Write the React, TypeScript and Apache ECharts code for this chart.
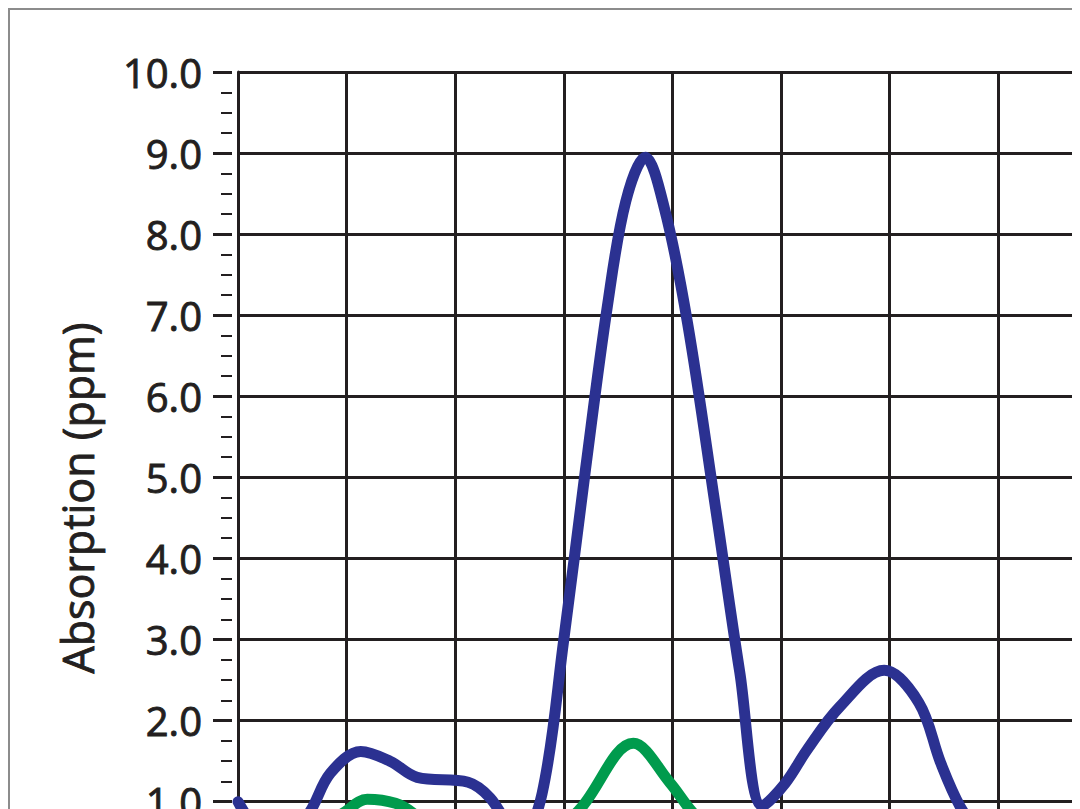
import React, { useEffect, useRef } from "react";
import * as echarts from "echarts";

const yTicks = [0, 1, 2, 3, 4, 5, 6, 7, 8, 9, 10];
const yAxisTitle = "Absorption (ppm)";

const blueX = [0, 0.3, 0.62, 0.85, 1.13, 1.4, 1.65, 2.12, 2.32, 2.6, 2.8, 3.0, 3.2, 3.4, 3.57, 3.75, 3.93, 4.14, 4.4, 4.62, 4.83, 5.04, 5.24, 5.54, 5.95, 6.27, 6.47, 6.65, 6.9];
const blueY = [1.0, 0.55, 0.8, 1.35, 1.62, 1.5, 1.3, 1.24, 1.05, 0.55, 1.1, 3.0, 5.1, 7.1, 8.4, 8.95, 8.3, 6.9, 4.6, 2.6, 0.95, 1.23, 1.64, 2.17, 2.62, 2.22, 1.48, 0.94, 0.45];

const greenX = [0.6, 0.99, 1.19, 1.45, 1.62, 1.9, 2.4, 2.8, 3.15, 3.64, 3.98, 4.16, 4.5];
const greenY = [0.5, 0.88, 1.03, 0.98, 0.85, 0.5, 0.35, 0.5, 0.91, 1.72, 1.23, 0.91, 0.4];

const INK = "#231f20";

export default function App() {
  const ref = useRef<HTMLDivElement>(null);
  useEffect(() => {
    if (!ref.current) return;
    const chart = echarts.init(ref.current, null, { renderer: "svg" });
    const pair = (xs: number[], ys: number[]) => xs.map((x, i) => [x, ys[i]]);
    chart.setOption({
      animation: false,
      backgroundColor: "#ffffff",
      grid: { left: 228, top: 62, right: 94.6, bottom: 127.2, containLabel: false },
      xAxis: {
        type: "value",
        min: 0,
        max: 9,
        interval: 1,
        axisLine: { show: false },
        axisTick: { show: false },
        axisLabel: { show: false },
        splitLine: { show: true, lineStyle: { color: INK, width: 3 } },
      },
      yAxis: [
        {
          type: "value",
          min: yTicks[0],
          max: yTicks[yTicks.length - 1],
          interval: 1,
          position: "left",
          axisLine: { show: true, lineStyle: { color: INK, width: 3 } },
          axisTick: { show: false },
          axisLabel: { show: false },
          splitLine: { show: true, lineStyle: { color: INK, width: 3 } },
        },
        {
          type: "value",
          min: yTicks[0],
          max: yTicks[yTicks.length - 1],
          interval: 1,
          position: "left",
          offset: 6,
          axisLine: { show: false },
          axisTick: { show: true, length: 19, lineStyle: { color: INK, width: 3 } },
          minorTick: { show: true, splitNumber: 4, length: 11, lineStyle: { color: INK, width: 2 } },
          axisLabel: {
            show: true,
            margin: 30,
            formatter: (v: number) => v.toFixed(1),
            fontFamily: "Open Sans",
            fontSize: 40,
            color: INK,
            textBorderColor: INK,
            textBorderWidth: 0.9,
          },
          splitLine: { show: false },
        },
      ],
      graphic: [
        {
          type: "text",
          x: 67,
          y: 488,
          rotation: Math.PI / 2,
          style: {
            text: yAxisTitle,
            fontFamily: "Open Sans",
            fontSize: 43,
            fill: INK,
            stroke: INK,
            lineWidth: 0.9,
            align: "center",
            verticalAlign: "middle",
          },
        },
      ],
      series: [
        {
          type: "line",
          data: pair(blueX, blueY),
          smooth: 0.35,
          showSymbol: false,
          lineStyle: { color: "#2b3191", width: 11, cap: "round", join: "round" },
          z: 3,
        },
        {
          type: "line",
          data: pair(greenX, greenY),
          smooth: 0.35,
          showSymbol: false,
          lineStyle: { color: "#009b4d", width: 11, cap: "round", join: "round" },
          z: 2,
        },
      ],
    });
    return () => chart.dispose();
  }, []);
  return (
    <div style={{ width: 1072, height: 801, overflow: "hidden" }}>
      <div style={{ borderTop: "2px solid #8c8c8c", borderLeft: "2px solid #8c8c8c", width: 1300, height: 1000 }}>
        <div ref={ref} style={{ width: 1300, height: 1000 }} />
      </div>
    </div>
  );
}
